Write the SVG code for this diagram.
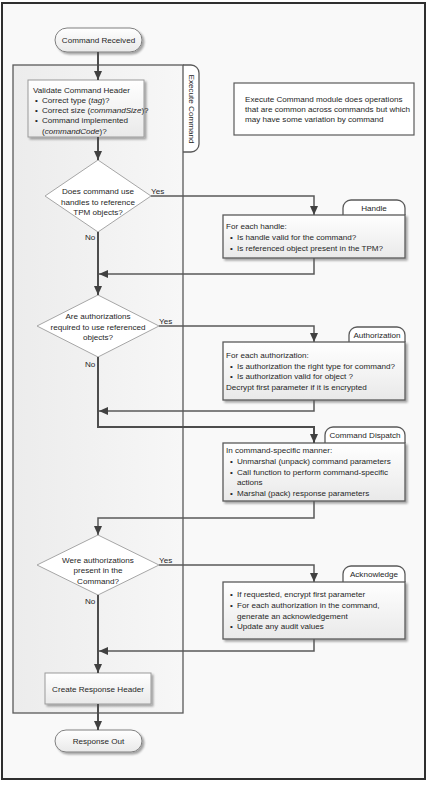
<svg xmlns="http://www.w3.org/2000/svg" width="429" height="785" viewBox="0 0 429 785">
<defs>
<linearGradient id="boxg" x1="0" y1="0" x2="0" y2="1"><stop offset="0" stop-color="#ffffff"/><stop offset="1" stop-color="#e9e9e9"/></linearGradient>
<linearGradient id="contg" x1="0" y1="0" x2="1" y2="0"><stop offset="0" stop-color="#ececec"/><stop offset="1" stop-color="#f7f7f7"/></linearGradient>
<marker id="ah" markerUnits="userSpaceOnUse" markerWidth="10" markerHeight="10" refX="9" refY="5" orient="auto"><path d="M0,1 L9,5 L0,9 z" fill="#404040"/></marker>
<filter id="sh" x="-10%" y="-10%" width="130%" height="140%"><feGaussianBlur in="SourceAlpha" stdDeviation="1.2"/><feOffset dx="1.5" dy="1.5"/><feComponentTransfer><feFuncA type="linear" slope="0.35"/></feComponentTransfer><feMerge><feMergeNode/><feMergeNode in="SourceGraphic"/></feMerge></filter>
</defs>
<style>
text{font-family:"Liberation Sans",Arial,sans-serif;font-size:8.1px;fill:#262626}
.c{text-anchor:middle}
.box{fill:url(#boxg);stroke:#5a5a5a;stroke-width:1.3}
.lbox{fill:url(#boxg);stroke:#9a9a9a;stroke-width:1}
.dia{fill:#ffffff;stroke:#a6a6a6;stroke-width:1}
.term{fill:url(#boxg);stroke:#7f7f7f;stroke-width:1}
.tab{fill:#ffffff;stroke:#5a5a5a;stroke-width:1.3}
.main{fill:none;stroke:#4d4d4d;stroke-width:2}
.br{fill:none;stroke:#595959;stroke-width:1.5}
</style>
<rect x="2" y="3" width="423" height="776" fill="#f9f9f9" stroke="#2f2f2f" stroke-width="2"/>
<g id="execute-command">
<path d="M183,65 H191 A8,8 0 0 1 199,73 V144 A8,8 0 0 1 191,152 H183" fill="#ffffff" stroke="#5a5a5a" stroke-width="1.3"/>
<rect x="13" y="65" width="170" height="648" fill="url(#contg)" stroke="#5a5a5a" stroke-width="1.3"/>
<text class="c" transform="translate(188.5,109) rotate(90)">Execute Command</text>
</g>
<g id="note">
<rect x="234" y="83" width="180" height="52" fill="#ffffff" stroke="#5a5a5a" stroke-width="1.2"/>
<text x="245" y="102">Execute Command module does operations</text>
<text x="245" y="112">that are common across commands but which</text>
<text x="245" y="122">may have some variation by command</text>
</g>
<g id="command-received">
<rect x="55" y="28" width="87" height="24" rx="12" class="term" filter="url(#sh)"/>
<text class="c" x="98.5" y="43">Command Received</text>
</g>
<g id="validate">
<rect x="28" y="80" width="116" height="57" class="lbox" filter="url(#sh)"/>
<text x="33" y="93">Validate Command Header</text>
<text x="35" y="103">•</text><text x="42" y="103">Correct type (<tspan font-style="italic">tag</tspan>)?</text>
<text x="35" y="113">•</text><text x="42" y="113">Correct size (<tspan font-style="italic">commandSize</tspan>)?</text>
<text x="35" y="123">•</text><text x="42" y="123">Command implemented</text>
<text x="42" y="134">(<tspan font-style="italic">commandCode</tspan>)?</text>
</g>
<g id="decision-handles">
<polygon points="98,160 151,196 98,232 45,196" class="dia"/>
<text class="c" x="98" y="194">Does command use</text>
<text class="c" x="98" y="205">handles to reference</text>
<text class="c" x="98" y="215">TPM objects?</text>
</g>
<g id="handle">
<path d="M343,215 V208 A8,8 0 0 1 351,200 H397 A8,8 0 0 1 405,208 V215" class="tab"/>
<text class="c" x="374" y="210.5">Handle</text>
<rect x="223" y="215" width="182" height="43" class="box" filter="url(#sh)"/>
<text x="226" y="229">For each handle:</text>
<text x="230" y="240">•</text><text x="237" y="240">Is handle valid for the command?</text>
<text x="230" y="251">•</text><text x="237" y="251">Is referenced object present in the TPM?</text>
</g>
<g id="decision-auth-required">
<polygon points="98,295 159,326 98,357 37,326" class="dia"/>
<text class="c" x="98" y="319">Are authorizations</text>
<text class="c" x="98" y="330">required to use referenced</text>
<text class="c" x="98" y="340">objects?</text>
</g>
<g id="authorization">
<path d="M349,342 V335 A8,8 0 0 1 357,327 H397 A8,8 0 0 1 405,335 V342" class="tab"/>
<text class="c" x="377" y="337.5">Authorization</text>
<rect x="223" y="342" width="182" height="58" class="box" filter="url(#sh)"/>
<text x="226" y="358">For each authorization:</text>
<text x="230" y="369">•</text><text x="237" y="369">Is authorization the right type for command?</text>
<text x="230" y="379">•</text><text x="237" y="379">Is authorization valid for object ?</text>
<text x="226" y="390">Decrypt first parameter if it is encrypted</text>
</g>
<g id="command-dispatch">
<path d="M325,443 V435 A8,8 0 0 1 333,427 H397 A8,8 0 0 1 405,435 V443" class="tab"/>
<text class="c" x="365" y="438">Command Dispatch</text>
<rect x="223" y="443" width="182" height="58" class="box" filter="url(#sh)"/>
<text x="226" y="453">In command-specific manner:</text>
<text x="230" y="464">•</text><text x="237" y="464">Unmarshal (unpack) command parameters</text>
<text x="230" y="475">•</text><text x="237" y="475">Call function to perform command-specific</text>
<text x="237" y="485">actions</text>
<text x="230" y="496">•</text><text x="237" y="496">Marshal (pack) response parameters</text>
</g>
<g id="decision-auth-present">
<polygon points="98,535 159,565 98,595 37,565" class="dia"/>
<text class="c" x="98" y="563">Were authorizations</text>
<text class="c" x="98" y="573">present in the</text>
<text class="c" x="98" y="584">Command?</text>
</g>
<g id="acknowledge">
<path d="M343,582 V574 A8,8 0 0 1 351,566 H397 A8,8 0 0 1 405,574 V582" class="tab"/>
<text class="c" x="374" y="577">Acknowledge</text>
<rect x="223" y="582" width="182" height="57" class="box" filter="url(#sh)"/>
<text x="230" y="597">•</text><text x="237" y="597">If requested, encrypt first parameter</text>
<text x="230" y="608">•</text><text x="237" y="608">For each authorization in the command,</text>
<text x="237" y="619">generate an acknowledgement</text>
<text x="230" y="629">•</text><text x="237" y="629">Update any audit values</text>
</g>
<g id="create-response-header">
<rect x="45" y="673" width="106" height="31" class="lbox" filter="url(#sh)"/>
<text class="c" x="98" y="691.5">Create Response Header</text>
</g>
<g id="response-out">
<rect x="55" y="730" width="87" height="22" rx="11" class="term" filter="url(#sh)"/>
<text class="c" x="98.5" y="744">Response Out</text>
</g>
<g id="connectors">
<path class="main" d="M98,52 V80" marker-end="url(#ah)"/>
<path class="main" d="M98,137 V160" marker-end="url(#ah)"/>
<path class="main" d="M98,232 V295" marker-end="url(#ah)"/>
<path class="br" d="M151,196 H314 V215" marker-end="url(#ah)"/>
<path class="br" d="M314,258 V274 H99" marker-end="url(#ah)"/>
<path class="br" d="M159,326 H314 V342" marker-end="url(#ah)"/>
<path class="br" d="M314,400 V411 H99" marker-end="url(#ah)"/>
<path class="main" d="M98,357 V427 H314 V443" marker-end="url(#ah)"/>
<path class="br" d="M314,501 V518 H98 V535" marker-end="url(#ah)"/>
<path class="br" d="M159,565 H314 V582" marker-end="url(#ah)"/>
<path class="br" d="M314,639 V651 H99" marker-end="url(#ah)"/>
<path class="main" d="M98,595 V673" marker-end="url(#ah)"/>
<path class="main" d="M98,704 V730" marker-end="url(#ah)"/>
<text x="151" y="194">Yes</text>
<text x="85" y="240">No</text>
<text x="159" y="324">Yes</text>
<text x="85" y="367">No</text>
<text x="159" y="563">Yes</text>
<text x="85" y="604">No</text>
</g>
</svg>
